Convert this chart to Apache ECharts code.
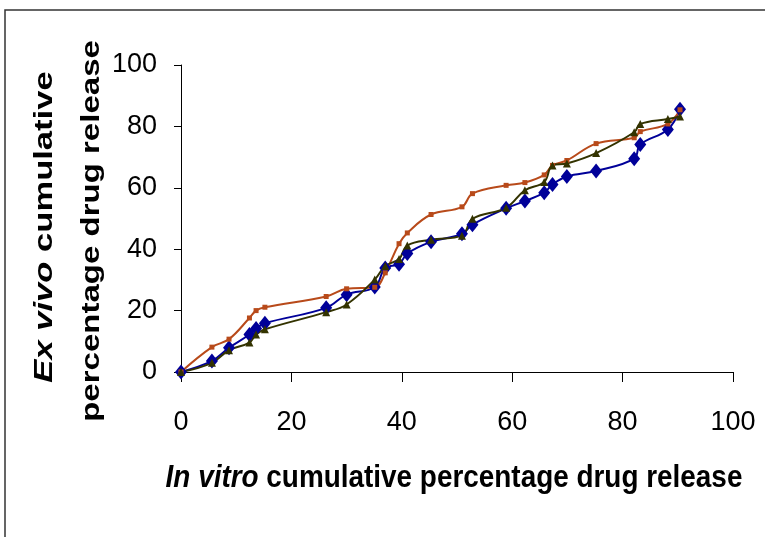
<!DOCTYPE html>
<html>
<head>
<meta charset="utf-8">
<script src="https://cdn.jsdelivr.net/npm/echarts@6/dist/echarts.min.js"></script>
<style>
  html, body { margin: 0; padding: 0; background: #fff; }
  #main { width: 765px; height: 537px; }
</style>
</head>
<body>
<div id="main"></div>
<script>
// in vitro release (x), shared by all three formulations
var inVitro = [0, 5.6, 8.7, 12.4, 13.6, 15.2, 26.3, 30, 35.1, 37, 39.5, 41, 45.3, 50.9, 52.8, 58.9, 62.3, 65.8, 67.3, 69.9, 75.2, 82.1, 83.2, 88.2, 90.4];
// ex vivo release (y)
var exVivoBlue = [0, 3.6, 7.9, 12.2, 14.2, 15.9, 20.9, 25.2, 27.7, 33.9, 35.1, 38.6, 42.4, 45, 48, 53.3, 55.7, 58.4, 61.1, 63.7, 65.5, 69.5, 74.1, 79, 85.6];
var exVivoBrown = [0, 8.1, 10.7, 17.6, 20, 21.1, 24.6, 27.1, 27.6, 32.3, 41.8, 45.3, 51.3, 53.8, 58.1, 60.8, 61.7, 64.2, 67.3, 68.9, 74.4, 76.3, 78.3, 80.8, 85.4];
var exVivoGreen = [0, 3, 7.1, 9.6, 12.2, 13.9, 19.5, 22, 30.1, 34.5, 36.8, 41.2, 43.1, 44.4, 49.9, 53.5, 59.2, 61.9, 67.3, 67.9, 71.3, 78.1, 80.8, 82.4, 83.2];
var axisTicks = [0, 20, 40, 60, 80, 100];

function pairs(ys) {
  return inVitro.map(function (x, i) { return [x, ys[i]]; });
}

var font = "'Liberation Sans', Arial, sans-serif";
var myChart = echarts.init(document.getElementById('main'));

myChart.setOption({
  animation: false,
  grid: { left: 181, right: 32, top: 65, bottom: 165 },
  xAxis: {
    type: 'value',
    min: axisTicks[0],
    max: axisTicks[axisTicks.length - 1],
    interval: 20,
    splitLine: { show: false },
    axisLine: { lineStyle: { color: '#000', width: 1 } },
    axisTick: { inside: false, length: 10, lineStyle: { color: '#000' } },
    axisLabel: { color: '#000', fontSize: 27, fontFamily: font, margin: 37 }
  },
  yAxis: {
    type: 'value',
    min: axisTicks[0],
    max: axisTicks[axisTicks.length - 1],
    interval: 20,
    splitLine: { show: false },
    axisLine: { show: true, lineStyle: { color: '#000', width: 1 } },
    axisTick: { show: true, inside: false, length: 7, lineStyle: { color: '#000' } },
    axisLabel: { color: '#000', fontSize: 27, fontFamily: font, margin: 24 }
  },
  series: [{
      name: 'blue',
      type: 'line',
      smooth: 0.4,
      symbol: 'diamond',
      symbolSize: [12, 15],
      itemStyle: { color: '#000099' },
      lineStyle: { color: '#000099', width: 2 },
      data: pairs(exVivoBlue)
    },
    {
      name: 'brown',
      type: 'line',
      smooth: 0.4,
      symbol: 'rect',
      symbolSize: 5,
      itemStyle: { color: '#B84A1A' },
      lineStyle: { color: '#B84A1A', width: 2 },
      data: pairs(exVivoBrown)
    },
    {
      name: 'green',
      type: 'line',
      smooth: 0.4,
      symbol: 'triangle',
      symbolSize: 8,
      itemStyle: { color: '#333300' },
      lineStyle: { color: '#333300', width: 2 },
      data: pairs(exVivoGreen)
    }
  ],
  graphic: [
    {
      // frame
      type: 'rect',
      shape: { x: 5, y: 10, width: 800, height: 600 },
      style: { fill: 'none', stroke: '#333', lineWidth: 1.5 },
      silent: true
    },
    {
      type: 'text',
      x: 454, y: 478,
      scaleX: 0.9,
      style: {
        text: '{i|In vitro} cumulative percentage drug release',
        fill: '#000',
        font: 'bold 31px ' + font,
        align: 'center',
        verticalAlign: 'middle',
        rich: { i: { fontStyle: 'italic', fontWeight: 'bold', fontSize: 31, fontFamily: font } }
      }
    },
    {
      type: 'text',
      x: 45, y: 227,
      rotation: Math.PI / 2,
      scaleX: 1.33,
      style: {
        text: '{i|Ex vivo} cumulative',
        fill: '#000',
        font: 'bold 26px ' + font,
        align: 'center',
        verticalAlign: 'middle',
        rich: { i: { fontStyle: 'italic', fontWeight: 'bold', fontSize: 26, fontFamily: font } }
      }
    },
    {
      type: 'text',
      x: 92, y: 231,
      rotation: Math.PI / 2,
      scaleX: 1.27,
      style: {
        text: 'percentage drug release',
        fill: '#000',
        font: 'bold 26px ' + font,
        align: 'center',
        verticalAlign: 'middle'
      }
    }
  ]
});
</script>
</body>
</html>
